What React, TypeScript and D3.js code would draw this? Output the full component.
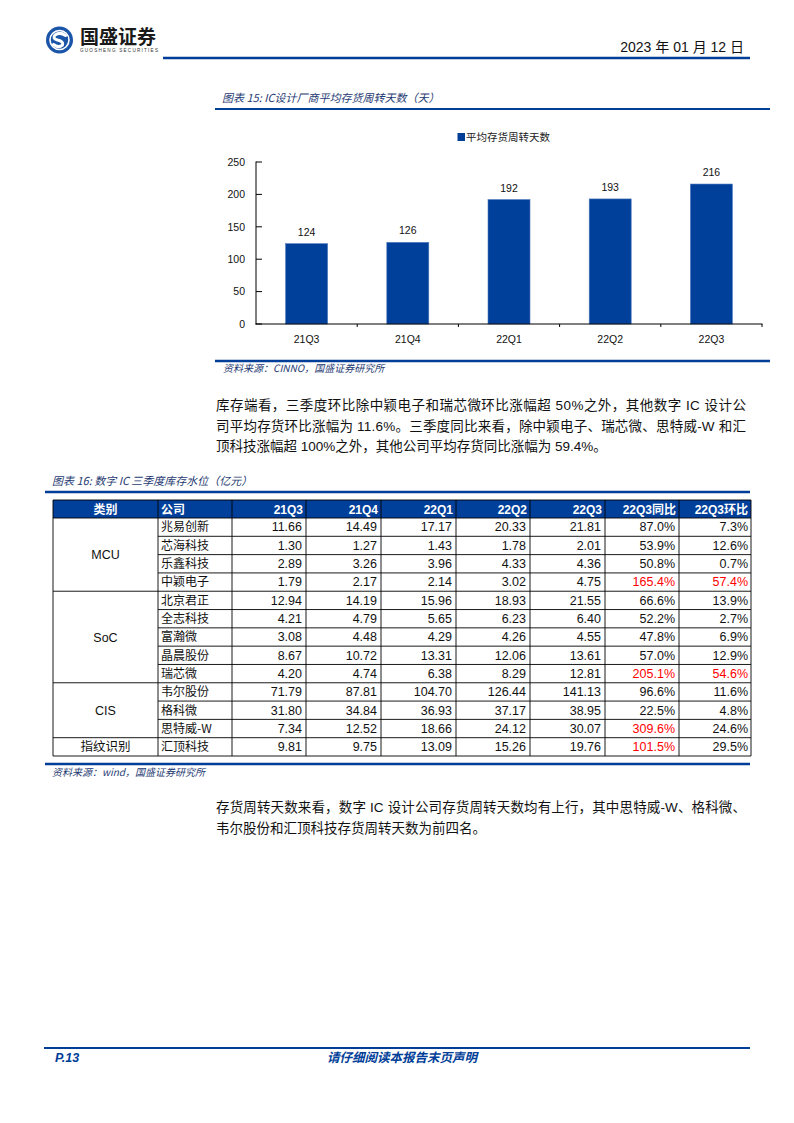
import * as d3 from "d3";
import React from "react";

// chart 15 data
const quarters = ["21Q3", "21Q4", "22Q1", "22Q2", "22Q3"];
const turnoverDays = [124, 126, 192, 193, 216];
const yTicks = [0, 50, 100, 150, 200, 250];

// table 16 data (亿元)
const groupNames = ["MCU", "SoC", "CIS", "指纹识别"];
const groupSizes = [4, 5, 3, 1];
const companies = ["兆易创新", "芯海科技", "乐鑫科技", "中颖电子", "北京君正", "全志科技", "富瀚微", "晶晨股份", "瑞芯微", "韦尔股份", "格科微", "思特威-W", "汇顶科技"];
const inv21Q3 = [11.66, 1.30, 2.89, 1.79, 12.94, 4.21, 3.08, 8.67, 4.20, 71.79, 31.80, 7.34, 9.81];
const inv21Q4 = [14.49, 1.27, 3.26, 2.17, 14.19, 4.79, 4.48, 10.72, 4.74, 87.81, 34.84, 12.52, 9.75];
const inv22Q1 = [17.17, 1.43, 3.96, 2.14, 15.96, 5.65, 4.29, 13.31, 6.38, 104.70, 36.93, 18.66, 13.09];
const inv22Q2 = [20.33, 1.78, 4.33, 3.02, 18.93, 6.23, 4.26, 12.06, 8.29, 126.44, 37.17, 24.12, 15.26];
const inv22Q3 = [21.81, 2.01, 4.36, 4.75, 21.55, 6.40, 4.55, 13.61, 12.81, 141.13, 38.95, 30.07, 19.76];
const yoy = [87.0, 53.9, 50.8, 165.4, 66.6, 52.2, 47.8, 57.0, 205.1, 96.6, 22.5, 309.6, 101.5];
const qoq = [7.3, 12.6, 0.7, 57.4, 13.9, 2.7, 6.9, 12.9, 54.6, 11.6, 4.8, 24.6, 29.5];
const headers = ["类别", "公司", "21Q3", "21Q4", "22Q1", "22Q2", "22Q3", "22Q3同比", "22Q3环比"];

const para1 = [
  "库存端看，三季度环比除中颖电子和瑞芯微环比涨幅超 50%之外，其他数字 IC 设计公",
  "司平均存货环比涨幅为 11.6%。三季度同比来看，除中颖电子、瑞芯微、思特威-W 和汇",
  "顶科技涨幅超 100%之外，其他公司平均存货同比涨幅为 59.4%。",
];
const para2 = [
  "存货周转天数来看，数字 IC 设计公司存货周转天数均有上行，其中思特威-W、格科微、",
  "韦尔股份和汇顶科技存货周转天数为前四名。",
];

const BLUE = "#003E98";
const CAP = "#1F3B73";
const CJK = "'Noto Sans CJK SC', sans-serif";
const LAT = "'Liberation Sans', 'Noto Sans CJK SC', sans-serif";
const NUM = "'Liberation Sans Narrow', 'Liberation Sans', sans-serif";

const BarChart = () => {
  const x = d3.scaleBand().domain(quarters).range([256, 762]);
  const y = d3.scaleLinear().domain([0, 250]).range([324, 162]);
  const barW = x.bandwidth() * 0.415;
  const edges = quarters.map((q) => x(q)).concat([762]);
  return (
    <g>
      <text x={222} y={102} fontSize={11} fontStyle="italic" fill={CAP} fontFamily={CJK}>
        图表 15: IC设计厂商平均存货周转天数（天）
      </text>
      <line x1={215} x2={770} y1={109} y2={109} stroke={BLUE} strokeWidth={2.2} />
      <rect x={457.5} y={133} width={7.5} height={8} fill={BLUE} />
      <text x={466} y={140.5} fontSize={10.5} fill="#222" fontFamily={CJK}>平均存货周转天数</text>
      {quarters.map((q, i) => {
        const cx = x(q) + x.bandwidth() / 2;
        return (
          <g key={q}>
            <rect x={cx - barW / 2} y={y(turnoverDays[i])} width={barW} height={y(0) - y(turnoverDays[i])}
              fill="#00409A" stroke="#4F78BC" strokeWidth={0.6} />
            <text x={cx} y={y(turnoverDays[i]) - 8} fontSize={10.5} textAnchor="middle" fontFamily={LAT} fill="#111">
              {turnoverDays[i]}
            </text>
            <text x={cx} y={343} fontSize={10.5} textAnchor="middle" fontFamily={LAT} fill="#111">{q}</text>
          </g>
        );
      })}
      <line x1={256} x2={256} y1={161.5} y2={324.5} stroke="#000" strokeWidth={1} />
      <line x1={255.5} x2={762.5} y1={324} y2={324} stroke="#000" strokeWidth={1} />
      {yTicks.map((t) => (
        <g key={t}>
          <line x1={256} x2={262} y1={y(t)} y2={y(t)} stroke="#000" />
          <text x={245} y={y(t) + 3.8} fontSize={10.5} textAnchor="end" fontFamily={LAT} fill="#111">{t}</text>
        </g>
      ))}
      {edges.slice(1).map((e, i) => (
        <line key={i} x1={e} x2={e} y1={324} y2={327} stroke="#000" />
      ))}
      <line x1={215} x2={770} y1={361} y2={361} stroke={BLUE} strokeWidth={2.4} />
      <text x={223} y={372} fontSize={10} fontStyle="italic" fill={CAP} fontFamily={CJK}>资料来源：CINNO，国盛证券研究所</text>
    </g>
  );
};

const DataTable = () => {
  const colEdges = [53, 158, 232, 306, 381, 456, 530, 605, 679, 751];
  const headTop = 500;
  const headBottom = 518;
  const rows = d3.scaleBand().domain(companies).range([headBottom, 756]);
  const rh = rows.bandwidth();
  const numCols = [inv21Q3, inv21Q4, inv22Q1, inv22Q2, inv22Q3];
  const groupStarts = groupSizes.map((_, i) => d3.sum(groupSizes.slice(0, i)));
  return (
    <g>
      <text x={52} y={485} fontSize={11} fontStyle="italic" fill={CAP} fontFamily={CJK}>
        图表 16: 数字 IC 三季度库存水位（亿元）
      </text>
      <line x1={45} x2={750} y1={492} y2={492} stroke={BLUE} strokeWidth={2.4} />
      <rect x={colEdges[0]} y={headTop} width={colEdges[9] - colEdges[0]} height={headBottom - headTop} fill="#00409A" />
      {headers.map((h, i) => {
        const isNum = i >= 2;
        const tx = i === 0 ? (colEdges[0] + colEdges[1]) / 2 : isNum ? colEdges[i + 1] - 3 : colEdges[i] + 3;
        return (
          <text key={h} x={tx} y={headTop + 13.5} fontSize={12} fontWeight="bold" fill="#fff"
            textAnchor={i === 0 ? "middle" : isNum ? "end" : "start"} fontFamily={isNum ? LAT : CJK}>
            {h}
          </text>
        );
      })}
      {companies.map((c, r) => {
        const top = rows(c);
        const base = top + rh / 2 + 4.3;
        return (
          <g key={c}>
            <text x={colEdges[1] + 3} y={base} fontSize={12} fontFamily={CJK} fill="#111">{c}</text>
            {numCols.map((col, k) => (
              <text key={k} x={colEdges[k + 3] - 4} y={base} fontSize={12.5} textAnchor="end" fontFamily={NUM} fill="#111">
                {col[r].toFixed(2)}
              </text>
            ))}
            <text x={colEdges[8] - 4} y={base} fontSize={12.5} textAnchor="end" fontFamily={NUM}
              fill={yoy[r] > 100 ? "#FF0000" : "#111"}>{yoy[r].toFixed(1)}%</text>
            <text x={colEdges[9] - 3} y={base} fontSize={12.5} textAnchor="end" fontFamily={NUM}
              fill={qoq[r] > 50 ? "#FF0000" : "#111"}>{qoq[r].toFixed(1)}%</text>
            <line x1={colEdges[1]} x2={colEdges[9]} y1={top + rh} y2={top + rh} stroke="#000" strokeWidth={0.9} />
          </g>
        );
      })}
      {groupNames.map((g, i) => {
        const top = rows(companies[groupStarts[i]]);
        const h = groupSizes[i] * rh;
        return (
          <g key={g}>
            <text x={(colEdges[0] + colEdges[1]) / 2} y={top + h / 2 + 4.5} fontSize={12.5} textAnchor="middle"
              fontFamily={g === "指纹识别" ? CJK : NUM} fill="#111">{g}</text>
            <line x1={colEdges[0]} x2={colEdges[1]} y1={top + h} y2={top + h} stroke="#000" strokeWidth={0.9} />
          </g>
        );
      })}
      {colEdges.map((e, i) => (
        <line key={i} x1={e} x2={e} y1={headTop} y2={756} stroke="#000" strokeWidth={0.9} />
      ))}
      <line x1={colEdges[0]} x2={colEdges[9]} y1={headTop} y2={headTop} stroke="#000" strokeWidth={0.9} />
      <line x1={colEdges[0]} x2={colEdges[9]} y1={headBottom} y2={headBottom} stroke="#000" strokeWidth={0.9} />
      <line x1={45} x2={750} y1={764} y2={764} stroke={BLUE} strokeWidth={2.4} />
      <text x={52} y={776} fontSize={10} fontStyle="italic" fill={CAP} fontFamily={CJK}>资料来源：wind，国盛证券研究所</text>
    </g>
  );
};

const Paragraph = ({ lines, top, justified }: { lines: string[]; top: number; justified: number }) => (
  <g>
    {lines.map((l, i) => (
      <text key={i} x={216} y={top + i * 20.5} fontSize={13.5} fontFamily={LAT} fill="#111"
        textLength={i < justified ? 530 : undefined} lengthAdjust="spacing">{l}</text>
    ))}
  </g>
);

const App = () => (
  <svg width={794} height={1123} style={{ position: "absolute", left: 0, top: 0, background: "#fff" }}>
    <rect width={794} height={1123} fill="#fff" />
    {/* header */}
    <circle cx={59.5} cy={40} r={13.5} fill="#1B55A8" />
    <circle cx={59.5} cy={40} r={9.5} fill="none" stroke="#fff" strokeWidth={1.6} />
    <path d="M 65.5 35.5 Q 60 31.5 55 35 Q 52 38.5 57.5 40 Q 64 41.5 62.5 45 Q 58.5 48.5 53.5 44.5"
      fill="none" stroke="#fff" strokeWidth={3} strokeLinecap="round" />
    <text x={80} y={43.5} fontSize={19} fontWeight="bold" fontFamily={CJK} fill="#1a1a1a">国盛证券</text>
    <text x={80} y={51.5} fontSize={4.6} fontFamily={LAT} fill="#333" textLength={78} lengthAdjust="spacing">GUOSHENG SECURITIES</text>
    <line x1={163} x2={750} y1={58} y2={58} stroke={BLUE} strokeWidth={2.5} />
    <text x={744} y={52} fontSize={14} textAnchor="end" fontFamily={LAT} fill="#111">2023 年 01 月 12 日</text>

    <BarChart />
    <Paragraph lines={para1} top={410} justified={2} />
    <DataTable />
    <Paragraph lines={para2} top={812} justified={1} />

    {/* footer */}
    <line x1={44} x2={750} y1={1048} y2={1048} stroke={BLUE} strokeWidth={2} />
    <text x={55} y={1062} fontSize={12.5} fontWeight="bold" fontStyle="italic" fontFamily={LAT} fill={BLUE}>P.13</text>
    <text x={402} y={1062} fontSize={12.5} fontWeight="bold" fontStyle="italic" fontFamily={CJK} fill={BLUE} textAnchor="middle">请仔细阅读本报告末页声明</text>
  </svg>
);

export default App;
